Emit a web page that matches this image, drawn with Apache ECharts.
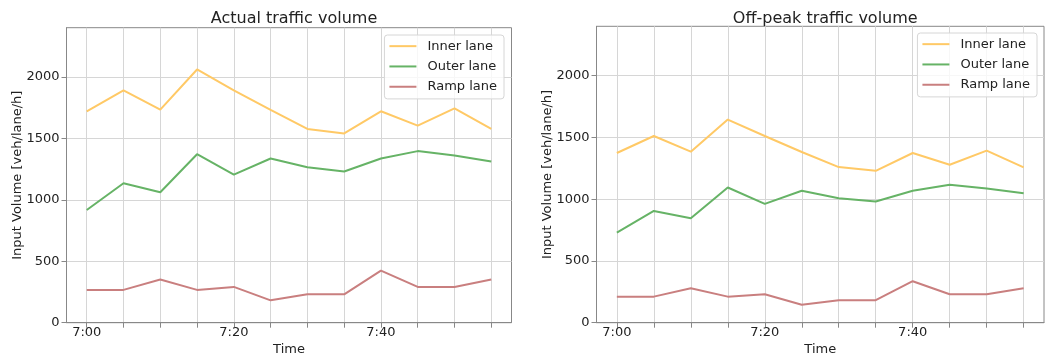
<!DOCTYPE html>
<html>
<head>
<meta charset="utf-8">
<script src="https://cdn.jsdelivr.net/npm/echarts@6/dist/echarts.min.js"></script>
<style>html,body{margin:0;padding:0;background:#fff;}#c{width:1047px;height:356px;}</style>
</head>
<body>
<div id="c"></div>
<script>
// ---- data ----
const times = ['7:00','7:05','7:10','7:15','7:20','7:25','7:30','7:35','7:40','7:45','7:50','7:55'];
const xTickLabels = ['7:00','7:20','7:40'];
const yTicks = [0, 500, 1000, 1500, 2000];
const seriesNames = ['Inner lane','Outer lane','Ramp lane'];
const titles = ['Actual traffic volume','Off-peak traffic volume'];

const actualInner = [1720, 1890, 1733, 2060, 1890, 1731, 1576, 1540, 1720, 1603, 1744, 1576];
const actualOuter = [917, 1135, 1061, 1371, 1205, 1336, 1265, 1230, 1336, 1396, 1361, 1312];
const actualRamp  = [267, 267, 351, 267, 291, 182, 231, 231, 424, 291, 291, 351];

const offInner = [1374, 1512, 1385, 1645, 1512, 1382, 1260, 1230, 1374, 1279, 1393, 1257];
const offOuter = [729, 905, 846, 1095, 962, 1068, 1008, 981, 1068, 1117, 1087, 1049];
const offRamp  = [211, 211, 279, 211, 230, 146, 182, 182, 336, 230, 230, 279];

// ---- helpers ----
const toMin = s => { const p = s.split(':'); return (+p[0] - 7) * 60 + (+p[1]); };
const fromMin = m => { const h = 7 + Math.floor(m / 60); const mm = m % 60; return h + ':' + (mm < 10 ? '0' : '') + mm; };
const xs = times.map(toMin);
const pairs = arr => arr.map((v, i) => [xs[i], v]);
const colors = ['#ffc966', '#66b366', '#c97f7f'];
const FONT = 'DejaVu Sans';

const grids = [
  {left: 66.5, top: 27.7, width: 445, height: 295},
  {left: 596.5, top: 26.3, width: 447.5, height: 296.4}
];
const dataSets = [[actualInner, actualOuter, actualRamp], [offInner, offOuter, offRamp]];

const option = {
  animation: false,
  backgroundColor: '#fff',
  textStyle: {fontFamily: FONT},
  title: titles.map((t, i) => ({
    text: t,
    left: grids[i].left + grids[i].width / 2,
    top: 6,
    textAlign: 'center',
    textStyle: {fontFamily: FONT, fontSize: 16, fontWeight: 'normal', color: '#222'}
  })),
  legend: [0, 1].map(i => ({
    data: seriesNames.map(n => ({name: n + (i ? ' ' : '')})),
    formatter: n => n.trim(),
    orient: 'vertical',
    right: i === 0 ? 543 : 10,
    top: i === 0 ? 35 : 33,
    icon: 'rect',
    itemWidth: 27,
    itemHeight: 2,
    itemGap: 4,
    padding: [3, 7, 4, 5],
    borderColor: '#d6d6d6',
    borderWidth: 1,
    borderRadius: 3,
    backgroundColor: 'rgba(255,255,255,0.8)',
    textStyle: {fontFamily: FONT, fontSize: 13, color: '#222', lineHeight: 16.3, padding: [0, 0, 0, 6]}
  })),
  grid: grids.map(g => Object.assign({show: true, outerBoundsMode: 'none', containLabel: false, borderColor: '#888', borderWidth: 1, backgroundColor: 'transparent'}, g)),
  xAxis: [0, 1].map(i => ({
    type: 'value',
    gridIndex: i,
    min: -2.75,
    max: 57.75,
    name: 'Time',
    nameLocation: 'middle',
    nameGap: 18,
    nameTextStyle: {fontFamily: FONT, fontSize: 13, color: '#222'},
    axisLine: {show: true, onZero: false, lineStyle: {color: '#888'}},
    axisTick: {show: true, length: 5, customValues: xs, lineStyle: {color: '#888'}},
    axisLabel: {customValues: xTickLabels.map(toMin), formatter: v => fromMin(v), fontFamily: FONT, fontSize: 13, color: '#222', margin: 3},
    splitLine: {show: true, lineStyle: {color: '#d6d6d6', width: 1}}
  })),
  yAxis: [0, 1].map(i => ({
    type: 'value',
    gridIndex: i,
    min: 0,
    max: 2400,
    name: 'Input Volume [veh/lane/h]',
    nameLocation: 'middle',
    nameMoveOverlap: false,
    nameGap: 42,
    nameTextStyle: {fontFamily: FONT, fontSize: 13, color: '#222'},
    axisLine: {show: true, onZero: false, lineStyle: {color: '#888'}},
    axisTick: {show: true, length: 5, customValues: yTicks, lineStyle: {color: '#888'}},
    axisLabel: {customValues: yTicks, formatter: v => String(v), fontFamily: FONT, fontSize: 13, color: '#222', margin: 7},
    splitLine: {show: true, lineStyle: {color: '#d6d6d6', width: 1}}
  })),
  series: []
};

[0, 1].forEach(i => {
  dataSets[i].forEach((arr, k) => {
    option.series.push({
      type: 'line',
      name: seriesNames[k] + (i ? ' ' : ''),
      xAxisIndex: i,
      yAxisIndex: i,
      data: pairs(arr),
      symbol: 'none',
      color: colors[k],
      lineStyle: {color: colors[k], width: 2}
    });
  });
});

const chart = echarts.init(document.getElementById('c'), null, {renderer: 'canvas'});
chart.setOption(option);
</script>
</body>
</html>
